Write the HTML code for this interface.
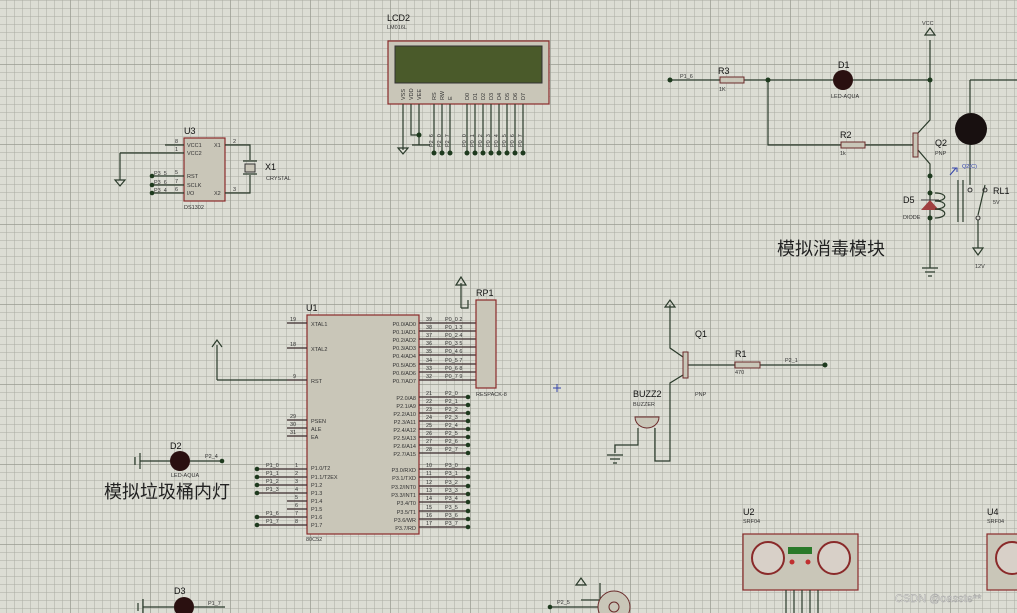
<!DOCTYPE html>
<html><head><meta charset="utf-8"><style>
html,body{margin:0;padding:0;background:#dcddd4;}
svg{display:block;font-family:"Liberation Sans",sans-serif;}
.w{stroke:#2a3a2a;stroke-width:1.2;fill:none}
.p{stroke:#3a2a2a;stroke-width:1.2;fill:none}
.b{fill:#c9c6b8;stroke:#8a2a2a;stroke-width:1.2}
.t{font-size:7px;fill:#222}
.s{font-size:5.5px;fill:#333}
.l{font-size:9px;fill:#111}
.cn{font-family:"Liberation Sans","Noto Sans CJK SC",sans-serif;font-size:18px;fill:#222}
</style></head><body>
<svg width="1017" height="613" viewBox="0 0 1017 613">
<defs>
<pattern id="g" x="6" y="0" width="8" height="8" patternUnits="userSpaceOnUse"><path d="M0 0V8M0 0H8" stroke="#aaaca2" stroke-width="1"/></pattern>
<pattern id="G" x="70" y="64" width="80" height="80" patternUnits="userSpaceOnUse"><path d="M0 0V80M0 0H80" stroke="#9a9c92" stroke-width="1.5"/></pattern>
</defs>
<rect width="1017" height="613" fill="#dcddd4"/>
<rect width="1017" height="613" fill="url(#g)"/>
<rect width="1017" height="613" fill="url(#G)"/>

<!-- LCD2 -->
<text x="387" y="21" class="l">LCD2</text><text x="387" y="29" class="s">LM016L</text>
<rect x="388" y="41" width="161" height="63" class="b"/>
<rect x="395" y="46" width="147" height="37" fill="#4a5a2a" stroke="#333"/>
<g class="s">
<text x="0" y="0" transform="translate(405,100) rotate(-90)">VSS</text>
<text transform="translate(413,100) rotate(-90)">VDD</text>
<text transform="translate(421,100) rotate(-90)">VEE</text>
<text transform="translate(436,100) rotate(-90)">RS</text>
<text transform="translate(444,100) rotate(-90)">RW</text>
<text transform="translate(452,100) rotate(-90)">E</text>
<text transform="translate(469,100) rotate(-90)">D0</text><text transform="translate(477,100) rotate(-90)">D1</text>
<text transform="translate(485,100) rotate(-90)">D2</text><text transform="translate(493,100) rotate(-90)">D3</text>
<text transform="translate(501,100) rotate(-90)">D4</text><text transform="translate(509,100) rotate(-90)">D5</text>
<text transform="translate(517,100) rotate(-90)">D6</text><text transform="translate(525,100) rotate(-90)">D7</text>
</g>
<path class="w" d="M403 104V150M411 104V135H420M419 104V145M434 104V153M442 104V153M450 104V153M467 104V153M475 104V153M483 104V153M491 104V153M499 104V153M507 104V153M515 104V153M523 104V153M412 145H430M398 148H408L403 154Z"/>
<g fill="#1e3a1e"><circle cx="419" cy="135" r="2.5"/><circle cx="434" cy="153" r="2.5"/><circle cx="442" cy="153" r="2.5"/><circle cx="450" cy="153" r="2.5"/><circle cx="467" cy="153" r="2.5"/><circle cx="475" cy="153" r="2.5"/><circle cx="483" cy="153" r="2.5"/><circle cx="491" cy="153" r="2.5"/><circle cx="499" cy="153" r="2.5"/><circle cx="507" cy="153" r="2.5"/><circle cx="515" cy="153" r="2.5"/><circle cx="523" cy="153" r="2.5"/></g>
<g class="s"><text transform="translate(433,147) rotate(-90)">P2_6</text><text transform="translate(441,147) rotate(-90)">P2_0</text><text transform="translate(449,147) rotate(-90)">P2_7</text>
<text transform="translate(466,147) rotate(-90)">P0_0</text><text transform="translate(474,147) rotate(-90)">P0_1</text><text transform="translate(482,147) rotate(-90)">P0_2</text><text transform="translate(490,147) rotate(-90)">P0_3</text><text transform="translate(498,147) rotate(-90)">P0_4</text><text transform="translate(506,147) rotate(-90)">P0_5</text><text transform="translate(514,147) rotate(-90)">P0_6</text><text transform="translate(522,147) rotate(-90)">P0_7</text></g>

<!-- U3 -->
<text x="184" y="134" class="l">U3</text>
<rect x="184" y="138" width="41" height="63" class="b"/>
<g class="s"><text x="187" y="147">VCC1</text><text x="187" y="155">VCC2</text><text x="187" y="178">RST</text><text x="187" y="187">SCLK</text><text x="187" y="195">I/O</text><text x="214" y="147">X1</text><text x="214" y="195">X2</text><text x="184" y="209">DS1302</text>
<text x="175" y="143">8</text><text x="175" y="151">1</text><text x="175" y="174">5</text><text x="175" y="183">7</text><text x="175" y="191">6</text><text x="233" y="143">2</text><text x="233" y="191">3</text>
<text x="154" y="175">P3_5</text><text x="154" y="184">P3_6</text><text x="154" y="192">P3_4</text></g>
<path class="w" d="M165 145H184M165 153H184M152 176H184M152 185H184M152 193H184M225 145H250V160M225 193H250V175M120 153H165M120 153V180M115 180H125L120 186Z M243 161H257M243 174H257"/>
<rect x="245" y="164" width="10" height="8" fill="#c9c6b8" stroke="#333"/>
<g fill="#1e3a1e"><circle cx="152" cy="176" r="2.3"/><circle cx="152" cy="185" r="2.3"/><circle cx="152" cy="193" r="2.3"/></g>
<text x="265" y="170" class="l">X1</text><text x="266" y="180" class="s">CRYSTAL</text>

<!-- U1 -->
<text x="306" y="311" class="l">U1</text>
<rect x="307" y="315" width="112" height="219" class="b"/>
<text x="306" y="541" class="s">80C52</text>
<path class="p" d="M287 323H307M287 348H307M287 380H307M287 420H307M287 428H307M287 436H307M257 469H307M257 477H307M257 485H307M257 493H307M287 501H307M287 509H307M257 517H307M257 525H307"/>
<path class="w" d="M217 380H287M217 345V380M212 347L217 340L222 347"/>
<g class="s"><text x="290" y="321">19</text><text x="290" y="346">18</text><text x="293" y="378">9</text><text x="290" y="418">29</text><text x="290" y="426">30</text><text x="290" y="434">31</text>
<text x="295" y="467">1</text><text x="295" y="475">2</text><text x="295" y="483">3</text><text x="295" y="491">4</text><text x="295" y="499">5</text><text x="295" y="507">6</text><text x="295" y="515">7</text><text x="295" y="523">8</text>
<text x="266" y="467">P1_0</text><text x="266" y="475">P1_1</text><text x="266" y="483">P1_2</text><text x="266" y="491">P1_3</text><text x="266" y="515">P1_6</text><text x="266" y="523">P1_7</text>
<text x="311" y="326">XTAL1</text><text x="311" y="351">XTAL2</text><text x="311" y="383">RST</text><text x="311" y="423">PSEN</text><text x="311" y="431">ALE</text><text x="311" y="439">EA</text>
<text x="311" y="470">P1.0/T2</text><text x="311" y="479">P1.1/T2EX</text><text x="311" y="487">P1.2</text><text x="311" y="495">P1.3</text><text x="311" y="503">P1.4</text><text x="311" y="511">P1.5</text><text x="311" y="519">P1.6</text><text x="311" y="527">P1.7</text>
</g>
<g fill="#1e3a1e"><circle cx="257" cy="469" r="2.3"/><circle cx="257" cy="477" r="2.3"/><circle cx="257" cy="485" r="2.3"/><circle cx="257" cy="493" r="2.3"/><circle cx="257" cy="517" r="2.3"/><circle cx="257" cy="525" r="2.3"/></g>
<g class="s" text-anchor="end">
<text x="416" y="326">P0.0/AD0</text><text x="416" y="334">P0.1/AD1</text><text x="416" y="342">P0.2/AD2</text><text x="416" y="350">P0.3/AD3</text><text x="416" y="358">P0.4/AD4</text><text x="416" y="367">P0.5/AD5</text><text x="416" y="375">P0.6/AD6</text><text x="416" y="383">P0.7/AD7</text>
<text x="416" y="400">P2.0/A8</text><text x="416" y="408">P2.1/A9</text><text x="416" y="416">P2.2/A10</text><text x="416" y="424">P2.3/A11</text><text x="416" y="432">P2.4/A12</text><text x="416" y="440">P2.5/A13</text><text x="416" y="448">P2.6/A14</text><text x="416" y="456">P2.7/A15</text>
<text x="416" y="472">P3.0/RXD</text><text x="416" y="480">P3.1/TXD</text><text x="416" y="489">P3.2/INT0</text><text x="416" y="497">P3.3/INT1</text><text x="416" y="505">P3.4/T0</text><text x="416" y="514">P3.5/T1</text><text x="416" y="522">P3.6/WR</text><text x="416" y="530">P3.7/RD</text>
</g>
<path class="p" d="M419 323H476M419 331H476M419 339H476M419 347H476M419 355H476M419 364H476M419 372H476M419 380H476 M419 397H468M419 405H468M419 413H468M419 421H468M419 429H468M419 437H468M419 445H468M419 453H468 M419 469H468M419 477H468M419 486H468M419 494H468M419 502H468M419 511H468M419 519H468M419 527H468"/>
<g fill="#1e3a1e"><circle cx="468" cy="397" r="2.3"/><circle cx="468" cy="405" r="2.3"/><circle cx="468" cy="413" r="2.3"/><circle cx="468" cy="421" r="2.3"/><circle cx="468" cy="429" r="2.3"/><circle cx="468" cy="437" r="2.3"/><circle cx="468" cy="445" r="2.3"/><circle cx="468" cy="453" r="2.3"/><circle cx="468" cy="469" r="2.3"/><circle cx="468" cy="477" r="2.3"/><circle cx="468" cy="486" r="2.3"/><circle cx="468" cy="494" r="2.3"/><circle cx="468" cy="502" r="2.3"/><circle cx="468" cy="511" r="2.3"/><circle cx="468" cy="519" r="2.3"/><circle cx="468" cy="527" r="2.3"/></g>
<g class="s">
<text x="426" y="321">39</text><text x="426" y="329">38</text><text x="426" y="337">37</text><text x="426" y="345">36</text><text x="426" y="353">35</text><text x="426" y="362">34</text><text x="426" y="370">33</text><text x="426" y="378">32</text>
<text x="426" y="395">21</text><text x="426" y="403">22</text><text x="426" y="411">23</text><text x="426" y="419">24</text><text x="426" y="427">25</text><text x="426" y="435">26</text><text x="426" y="443">27</text><text x="426" y="451">28</text>
<text x="426" y="467">10</text><text x="426" y="475">11</text><text x="426" y="484">12</text><text x="426" y="492">13</text><text x="426" y="500">14</text><text x="426" y="509">15</text><text x="426" y="517">16</text><text x="426" y="525">17</text>
<text x="445" y="321">P0_0 2</text><text x="445" y="329">P0_1 3</text><text x="445" y="337">P0_2 4</text><text x="445" y="345">P0_3 5</text><text x="445" y="353">P0_4 6</text><text x="445" y="362">P0_5 7</text><text x="445" y="370">P0_6 8</text><text x="445" y="378">P0_7 9</text>
<text x="445" y="395">P2_0</text><text x="445" y="403">P2_1</text><text x="445" y="411">P2_2</text><text x="445" y="419">P2_3</text><text x="445" y="427">P2_4</text><text x="445" y="435">P2_5</text><text x="445" y="443">P2_6</text><text x="445" y="451">P2_7</text>
<text x="445" y="467">P3_0</text><text x="445" y="475">P3_1</text><text x="445" y="484">P3_2</text><text x="445" y="492">P3_3</text><text x="445" y="500">P3_4</text><text x="445" y="509">P3_5</text><text x="445" y="517">P3_6</text><text x="445" y="525">P3_7</text>
</g>
<!-- RP1 -->
<text x="476" y="296" class="l">RP1</text>
<rect x="476" y="300" width="20" height="88" class="b"/>
<text x="476" y="396" class="s">RESPACK-8</text>
<path class="w" d="M461 308H468V300M461 283V308M456 285L461 277L466 285Z"/>
<path d="M553 388H561M557 384V392" stroke="#3344aa"/>

<!-- D2 / text -->
<text x="170" y="449" class="l">D2</text>
<circle cx="180" cy="461" r="10" fill="#2a1010"/>
<path class="w" d="M140 461H170M190 461H222M135 457V465M140 453V469"/>
<circle cx="222" cy="461" r="2.3" fill="#1e3a1e"/>
<text x="205" y="458" class="s">P2_4</text><text x="171" y="477" class="s">LED-AQUA</text>
<text x="104" y="498" class="cn">模拟垃圾桶内灯</text>
<text x="174" y="594" class="l">D3</text>
<circle cx="184" cy="607" r="10" fill="#2a1010"/>
<path class="w" d="M143 607H174M194 607H225M138 603V611M143 599V613"/>
<text x="208" y="605" class="s">P1_7</text>

<!-- top right circuit -->
<text x="838" y="68" class="l">D1</text><text x="831" y="98" class="s">LED-AQUA</text>
<text x="718" y="74" class="l">R3</text><text x="719" y="91" class="s">1K</text>
<text x="680" y="78" class="s">P1_6</text>
<path class="w" d="M670 80H720M744 80H833M853 80H930M768 80V145H841M865 145H913M930 40V120L918 133M918 150L930 164V268M970 80V113M970 143V185M970 80H1017M985 185L978 215M978 220V248M922 268H938M925 272H935M928 276H932M925 35H935L930 28Z M973 248H983L978 255Z"/>
<circle cx="670" cy="80" r="2.5" fill="#1e3a1e"/><circle cx="768" cy="80" r="2.5" fill="#1e3a1e"/><circle cx="930" cy="80" r="2.5" fill="#1e3a1e"/><circle cx="930" cy="176" r="2.5" fill="#1e3a1e"/><circle cx="930" cy="193" r="2.5" fill="#1e3a1e"/><circle cx="930" cy="218" r="2.5" fill="#1e3a1e"/>
<rect x="720" y="77" width="24" height="6" fill="#c9c6b8" stroke="#6a2a2a"/>
<rect x="841" y="142" width="24" height="6" fill="#c9c6b8" stroke="#6a2a2a"/>
<circle cx="843" cy="80" r="10" fill="#2a1010"/>
<rect x="913" y="133" width="5" height="24" fill="#c9c6b8" stroke="#6a2a2a"/>
<text x="840" y="138" class="l">R2</text><text x="840" y="155" class="s">1k</text>
<text x="935" y="146" class="l">Q2</text><text x="935" y="155" class="s">PNP</text>
<text x="922" y="25" class="s">VCC</text>
<path d="M950 175L956 168M952 168H957V172" stroke="#3344aa" fill="none"/><text x="962" y="168" class="s" style="fill:#3344aa">Q2(C)</text>
<circle cx="971" cy="129" r="16" fill="#181010"/>
<path d="M921 210H939L930 200Z" fill="#a04040"/><path d="M921 200H939" stroke="#333"/>
<path class="w" d="M935 193C948 193 948 201 935 201C948 201 948 209 935 209C948 209 948 218 935 218"/>
<path class="w" d="M958 180V222M963 180V222"/>
<circle cx="970" cy="190" r="2" fill="none" stroke="#333"/><circle cx="985" cy="190" r="2" fill="none" stroke="#333"/><circle cx="978" cy="218" r="2" fill="none" stroke="#333"/>
<text x="903" y="203" class="l">D5</text><text x="903" y="219" class="s">DIODE</text>
<text x="993" y="194" class="l">RL1</text><text x="993" y="204" class="s">5V</text><text x="975" y="268" class="s">12V</text>
<text x="777" y="255" class="cn">模拟消毒模块</text>

<!-- Q1 / buzzer -->
<path class="w" d="M670 305V348L683 357M683 375L670 383V461H655V428M638 428V445H615V453M665 307H675L670 300Z M687 365H735M760 365H825M607 455H623M610 459H620M613 463H617"/>
<rect x="683" y="352" width="5" height="26" fill="#c9c6b8" stroke="#6a2a2a"/>
<rect x="735" y="362" width="25" height="6" fill="#c9c6b8" stroke="#6a2a2a"/>
<circle cx="825" cy="365" r="2.5" fill="#1e3a1e"/>
<path d="M635 417H659A12 11 0 0 1 635 417Z" fill="#c9c6b8" stroke="#6a2a2a"/>
<text x="695" y="337" class="l">Q1</text><text x="695" y="396" class="s">PNP</text>
<text x="735" y="357" class="l">R1</text><text x="735" y="374" class="s">470</text><text x="785" y="362" class="s">P2_1</text>
<text x="633" y="397" class="l">BUZZ2</text><text x="633" y="406" class="s">BUZZER</text>

<!-- bottom -->
<path class="w" d="M550 607H600M581 600H600V583M576 585H586L581 578Z"/>
<circle cx="550" cy="607" r="2.3" fill="#1e3a1e"/><text x="557" y="604" class="s">P2_5</text>
<circle cx="614" cy="607" r="16" fill="#c9c6b8" stroke="#6a2a2a"/><circle cx="614" cy="607" r="5" fill="none" stroke="#6a2a2a"/>
<text x="743" y="515" class="l">U2</text><text x="743" y="523" class="s">SRF04</text>
<rect x="743" y="534" width="115" height="56" class="b"/>
<circle cx="768" cy="558" r="16" fill="#d8d0c8" stroke="#8a2a2a" stroke-width="2"/>
<circle cx="834" cy="558" r="16" fill="#d8d0c8" stroke="#8a2a2a" stroke-width="2"/>
<rect x="788" y="547" width="24" height="7" fill="#2a7a2a"/>
<circle cx="792" cy="562" r="2.5" fill="#c03030"/><circle cx="808" cy="562" r="2.5" fill="#c03030"/>
<path class="w" d="M786 590V613M794 590V613M802 590V613M810 590V613M818 590V613"/>
<text x="987" y="515" class="l">U4</text><text x="987" y="523" class="s">SRF04</text>
<rect x="987" y="534" width="40" height="56" class="b"/>
<circle cx="1012" cy="558" r="16" fill="#d8d0c8" stroke="#8a2a2a" stroke-width="2"/>
<text x="895" y="602" style="font-size:11px;fill:#f4f4f0;stroke:#999;stroke-width:.4">CSDN @oasste**</text>
</svg>
</body></html>
